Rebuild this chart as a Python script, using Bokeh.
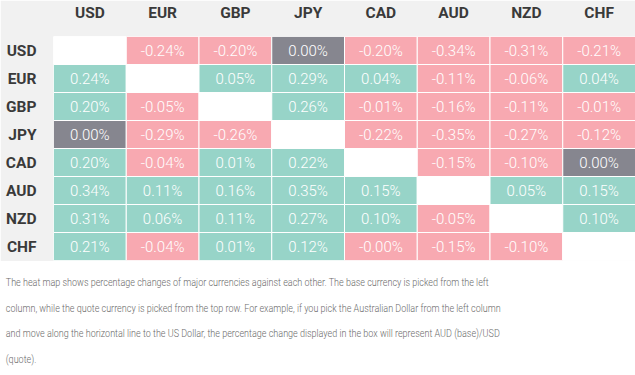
from bokeh.plotting import figure
from bokeh.models import FactorRange, ColumnDataSource, Div
from bokeh.layouts import column
from bokeh.core.properties import value
from bokeh.embed import file_html
from bokeh.resources import INLINE
import math

currencies = ["USD", "EUR", "GBP", "JPY", "CAD", "AUD", "NZD", "CHF"]

usd_row = [None, -0.24, -0.20, 0.00, -0.20, -0.34, -0.31, -0.21]
eur_row = [0.24, None, 0.05, 0.29, 0.04, -0.11, -0.06, 0.04]
gbp_row = [0.20, -0.05, None, 0.26, -0.01, -0.16, -0.11, -0.01]
jpy_row = [0.00, -0.29, -0.26, None, -0.22, -0.35, -0.27, -0.12]
cad_row = [0.20, -0.04, 0.01, 0.22, None, -0.15, -0.10, 0.00]
aud_row = [0.34, 0.11, 0.16, 0.35, 0.15, None, 0.05, 0.15]
nzd_row = [0.31, 0.06, 0.11, 0.27, 0.10, -0.05, None, 0.10]
chf_row = [0.21, -0.04, 0.01, 0.12, -0.0, -0.15, -0.10, None]

rows = [usd_row, eur_row, gbp_row, jpy_row, cad_row, aud_row, nzd_row, chf_row]

caption_lines = [
    "The heat map shows percentage changes of major currencies against each other. The base currency is picked from the left",
    "column, while the quote currency is picked from the top row. For example, if you pick the Australian Dollar from the left column",
    "and move along the horizontal line to the US Dollar, the percentage change displayed in the box will represent AUD (base)/USD",
    "(quote).",
]

POS = "#97d4c8"
NEG = "#f8a9b1"
ZERO = "#86868f"
BG = "#f1f1f1"

xs, ys, fills, labels = [], [], [], []
for base, vals in zip(currencies, rows):
    for quote, v in zip(currencies, vals):
        xs.append(quote)
        ys.append(base)
        if v is None:
            fills.append("white")
            labels.append("")
        else:
            if v > 0:
                fills.append(POS)
            elif v < 0 or math.copysign(1.0, v) < 0:
                fills.append(NEG)
            else:
                fills.append(ZERO)
            labels.append(f"{v:.2f}%")

src = ColumnDataSource(dict(x=xs, y=ys, fill=fills, label=labels))

p = figure(
    width=635, height=261,
    x_range=FactorRange(*currencies),
    y_range=FactorRange(*reversed(currencies)),
    x_axis_location="above",
    output_backend="svg", toolbar_location=None, tools="",
    min_border_left=53, min_border_top=30, min_border_right=0, min_border_bottom=1,
)
p.border_fill_color = BG
p.background_fill_color = "white"
p.outline_line_color = None
p.grid.visible = False

p.rect(x="x", y="y", width=1, height=1, source=src,
       fill_color="fill", line_color="white", line_width=1)
p.text(x="x", y="y", text="label", source=src,
       text_align="center", text_baseline="middle",
       text_font=value("'Roboto Light', Roboto"), text_font_size="15px",
       text_color="white")

for ax in (p.xaxis[0], p.yaxis[0]):
    ax.axis_line_color = None
    ax.major_tick_line_color = None
    ax.minor_tick_line_color = None
    ax.major_label_text_font = "Roboto"
    ax.major_label_text_font_style = "bold"
    ax.major_label_text_font_size = "15.5px"
    ax.major_label_text_color = "#3a3a3a"
p.xaxis.major_label_standoff = 9
p.yaxis.major_label_standoff = 11

lines_html = "".join(
    f'<div style="white-space:nowrap;height:25.6px;line-height:25.6px;">{t}</div>'
    for t in caption_lines
)
div = Div(
    text=(
        '<div style="font-family:\'Roboto Light\', Roboto, sans-serif;font-weight:300;'
        'font-size:11px;color:#6c6c6c;padding-top:9px;padding-left:7px;'
        'transform:scaleX(0.82);transform-origin:left top;">'
        + lines_html + "</div>"
    ),
    width=635, height=114, margin=(0, 0, 0, 0),
)

layout = column(p, div, spacing=0)

open("out.html", "w").write(file_html(layout, INLINE))
